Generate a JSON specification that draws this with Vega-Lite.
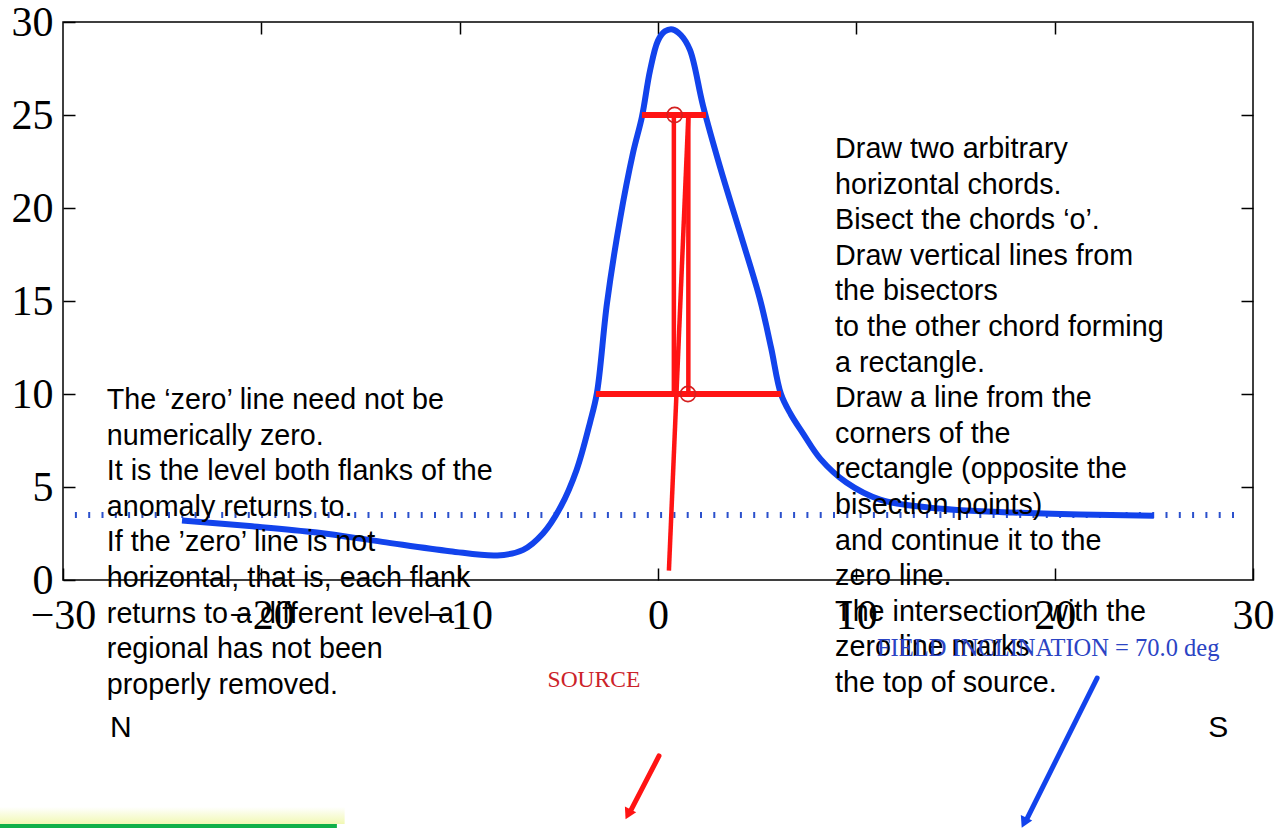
{
  "$schema": "https://vega.github.io/schema/vega-lite/v6.json",
  "autosize": {"type": "none"},
  "width": 1190,
  "height": 558,
  "padding": {"left": 63, "top": 22, "right": 32, "bottom": 248},
  "background": "white",
  "config": {
    "view": {"stroke": "black", "strokeWidth": 1.5},
    "text": {"font": "Liberation Sans", "fontSize": 28.7, "lineBreak": "\n", "lineHeight": 35.6, "align": "left", "baseline": "alphabetic", "color": "black"}
  },
  "datasets": {
    "curve": [
      {"x": -24.0, "y": 3.2}, {"x": -20.6, "y": 2.9}, {"x": -17.2, "y": 2.55}, {"x": -13.9, "y": 2.05},
      {"x": -10.5, "y": 1.55}, {"x": -8.1, "y": 1.32}, {"x": -6.8, "y": 1.62}, {"x": -5.8, "y": 2.5},
      {"x": -4.9, "y": 3.95}, {"x": -4.1, "y": 5.93}, {"x": -3.43, "y": 8.46}, {"x": -3.08, "y": 10.05},
      {"x": -2.57, "y": 14.9}, {"x": -1.92, "y": 19.36}, {"x": -1.26, "y": 22.96}, {"x": -0.81, "y": 24.9},
      {"x": -0.4, "y": 27.4}, {"x": 0.0, "y": 29.0}, {"x": 0.35, "y": 29.5}, {"x": 0.74, "y": 29.6},
      {"x": 1.15, "y": 29.3}, {"x": 1.61, "y": 28.5},
      {"x": 2.27, "y": 25.5}, {"x": 3.13, "y": 22.2}, {"x": 4.13, "y": 18.7}, {"x": 5.14, "y": 15.1},
      {"x": 5.7, "y": 12.5}, {"x": 6.2, "y": 10.0}, {"x": 6.7, "y": 8.9}, {"x": 7.3, "y": 7.9},
      {"x": 8.2, "y": 6.5}, {"x": 9.5, "y": 5.24},
      {"x": 11.2, "y": 4.32}, {"x": 13.7, "y": 3.89}, {"x": 17.9, "y": 3.63}, {"x": 21.3, "y": 3.52},
      {"x": 25.0, "y": 3.46}
    ],
    "chords": [
      {"x": -0.81, "x2": 2.42, "y": 25},
      {"x": -3.13, "x2": 6.2, "y": 10}
    ],
    "verticals": [
      {"x": 0.8, "y": 25, "y2": 10},
      {"x": 1.53, "y": 10, "y2": 25}
    ],
    "diagonal": [{"x": 1.53, "y": 25, "x2": 0.55, "y2": 0.5}],
    "bisectors": [{"x": 0.84, "y": 25}, {"x": 1.51, "y": 10}],
    "zeroline": [{"x": -29.4, "x2": 29.6, "y": 3.5}],
    "redarrow": [{"x": 0.05, "y": -9.46, "x2": -1.35, "y2": -12.35}],
    "redtip": [{"x": -1.51, "y": -12.6}],
    "bluearrow": [{"x": 22.14, "y": -5.27, "x2": 18.62, "y2": -12.8}],
    "bluetip": [{"x": 18.46, "y": -13.05}],
    "glow": [{"x": -33.2, "x2": -15.8, "y": -12.2, "y2": -13.12}],
    "greenbar": [{"x": -33.2, "x2": -16.19, "y": -13.12, "y2": -13.4}],
    "lefttext": [{"x": -27.79, "y": 9.19, "t": "The ‘zero’ line need not be\nnumerically zero.\nIt is the level both flanks of the\nanomaly returns to.\nIf the ’zero’ line is not\nhorizontal, that is, each flank\nreturns to a different level a\nregional has not been\nproperly removed."}],
    "righttext": [{"x": 8.93, "y": 22.69, "t": "Draw two arbitrary\nhorizontal chords.\nBisect the chords ‘o’.\nDraw vertical lines from\nthe bisectors\nto the other chord forming\na rectangle.\nDraw a line from the\ncorners of the\nrectangle (opposite the\nbisection points)\nand continue it to the\nzero line.\nThe intersection with the\nzero line marks\nthe top of source."}],
    "ns": [{"x": -27.63, "y": -8.44, "t": "N"}, {"x": 27.74, "y": -8.44, "t": "S"}],
    "source": [{"x": -3.23, "y": -5.75, "t": "SOURCE"}],
    "field": [{"x": 11.04, "y": -4.09, "t": "FIELD   INCLINATION = 70.0 deg"}]
  },
  "layer": [
    {
      "data": {"name": "glow"},
      "mark": {"type": "rect", "color": {"gradient": "linear", "x1": 0, "y1": 0, "x2": 0, "y2": 1, "stops": [{"offset": 0, "color": "#ffffff"}, {"offset": 1, "color": "#f1f8b4"}]}},
      "encoding": {
        "x": {"field": "x", "type": "quantitative", "scale": {"domain": [-30, 30], "nice": false, "zero": false}, "axis": null},
        "x2": {"field": "x2"},
        "y": {"field": "y", "type": "quantitative", "scale": {"domain": [0, 30], "nice": false, "zero": false}, "axis": null},
        "y2": {"field": "y2"}
      }
    },
    {
      "data": {"name": "greenbar"},
      "mark": {"type": "rect", "color": "#10b04a"},
      "encoding": {
        "x": {"field": "x", "type": "quantitative", "axis": null},
        "x2": {"field": "x2"},
        "y": {"field": "y", "type": "quantitative", "axis": null},
        "y2": {"field": "y2"}
      }
    },
    {
      "data": {"name": "zeroline"},
      "mark": {"type": "rule", "color": "#2b50cc", "strokeWidth": 6, "strokeDash": [2, 11.3]},
      "encoding": {
        "x": {"field": "x", "type": "quantitative", "axis": {"orient": "top", "title": null, "labels": false, "domain": false, "grid": false, "ticks": true, "tickSize": -12, "tickWidth": 1.5, "tickColor": "black", "values": [-20, -10, 0, 10, 20]}},
        "x2": {"field": "x2"},
        "y": {"field": "y", "type": "quantitative", "axis": {"orient": "right", "title": null, "labels": false, "domain": false, "grid": false, "ticks": true, "tickSize": -12, "tickWidth": 1.5, "tickColor": "black", "values": [5, 10, 15, 20, 25]}}
      }
    },
    {
      "data": {"name": "curve"},
      "mark": {"type": "line", "color": "#1243ec", "strokeWidth": 6, "interpolate": "catmull-rom"},
      "encoding": {
        "x": {"field": "x", "type": "quantitative", "axis": {"orient": "bottom", "title": null, "domain": false, "grid": false, "tickSize": -12, "tickWidth": 1.5, "tickColor": "black", "values": [-30, -20, -10, 0, 10, 20, 30], "labelFont": "Liberation Serif", "labelFontSize": 42, "labelColor": "black", "labelBaseline": "alphabetic", "labelPadding": 60, "labelFlush": false, "labelOverlap": false}},
        "y": {"field": "y", "type": "quantitative", "axis": {"orient": "left", "title": null, "domain": false, "grid": false, "tickSize": -12, "tickWidth": 1.5, "tickColor": "black", "values": [0, 5, 10, 15, 20, 25, 30], "labelFont": "Liberation Serif", "labelFontSize": 42, "labelColor": "black", "labelBaseline": "middle", "labelPadding": 22, "labelFlush": false, "labelOverlap": false}}
      }
    },
    {
      "data": {"name": "chords"},
      "mark": {"type": "rule", "color": "#ff1414", "strokeWidth": 6},
      "encoding": {
        "x": {"field": "x", "type": "quantitative", "axis": null},
        "x2": {"field": "x2"},
        "y": {"field": "y", "type": "quantitative", "axis": null}
      }
    },
    {
      "data": {"name": "verticals"},
      "mark": {"type": "rule", "color": "#ff1414", "strokeWidth": 4.5},
      "encoding": {
        "x": {"field": "x", "type": "quantitative", "axis": null},
        "y": {"field": "y", "type": "quantitative", "axis": null},
        "y2": {"field": "y2"}
      }
    },
    {
      "data": {"name": "diagonal"},
      "mark": {"type": "rule", "color": "#ff1414", "strokeWidth": 4.5},
      "encoding": {
        "x": {"field": "x", "type": "quantitative", "axis": null},
        "y": {"field": "y", "type": "quantitative", "axis": null},
        "x2": {"field": "x2"},
        "y2": {"field": "y2"}
      }
    },
    {
      "data": {"name": "bisectors"},
      "mark": {"type": "point", "shape": "circle", "filled": false, "color": "#d42020", "strokeWidth": 1.6, "size": 230, "opacity": 1},
      "encoding": {
        "x": {"field": "x", "type": "quantitative", "axis": null},
        "y": {"field": "y", "type": "quantitative", "axis": null}
      }
    },
    {
      "data": {"name": "redarrow"},
      "mark": {"type": "rule", "color": "#ff1414", "strokeWidth": 5, "strokeCap": "round"},
      "encoding": {
        "x": {"field": "x", "type": "quantitative", "axis": null},
        "y": {"field": "y", "type": "quantitative", "axis": null},
        "x2": {"field": "x2"},
        "y2": {"field": "y2"}
      }
    },
    {
      "data": {"name": "redtip"},
      "mark": {"type": "point", "shape": "triangle-down", "filled": true, "color": "#ff1414", "size": 160, "angle": 27, "opacity": 1},
      "encoding": {
        "x": {"field": "x", "type": "quantitative", "axis": null},
        "y": {"field": "y", "type": "quantitative", "axis": null}
      }
    },
    {
      "data": {"name": "bluearrow"},
      "mark": {"type": "rule", "color": "#1243ec", "strokeWidth": 5, "strokeCap": "round"},
      "encoding": {
        "x": {"field": "x", "type": "quantitative", "axis": null},
        "y": {"field": "y", "type": "quantitative", "axis": null},
        "x2": {"field": "x2"},
        "y2": {"field": "y2"}
      }
    },
    {
      "data": {"name": "bluetip"},
      "mark": {"type": "point", "shape": "triangle-down", "filled": true, "color": "#1243ec", "size": 160, "angle": 26, "opacity": 1},
      "encoding": {
        "x": {"field": "x", "type": "quantitative", "axis": null},
        "y": {"field": "y", "type": "quantitative", "axis": null}
      }
    },
    {
      "data": {"name": "lefttext"},
      "mark": {"type": "text"},
      "encoding": {
        "x": {"field": "x", "type": "quantitative", "axis": null},
        "y": {"field": "y", "type": "quantitative", "axis": null},
        "text": {"field": "t"}
      }
    },
    {
      "data": {"name": "righttext"},
      "mark": {"type": "text"},
      "encoding": {
        "x": {"field": "x", "type": "quantitative", "axis": null},
        "y": {"field": "y", "type": "quantitative", "axis": null},
        "text": {"field": "t"}
      }
    },
    {
      "data": {"name": "ns"},
      "mark": {"type": "text", "fontSize": 30},
      "encoding": {
        "x": {"field": "x", "type": "quantitative", "axis": null},
        "y": {"field": "y", "type": "quantitative", "axis": null},
        "text": {"field": "t"}
      }
    },
    {
      "data": {"name": "source"},
      "mark": {"type": "text", "font": "Liberation Serif", "fontSize": 23.5, "align": "center", "color": "#cc2229"},
      "encoding": {
        "x": {"field": "x", "type": "quantitative", "axis": null},
        "y": {"field": "y", "type": "quantitative", "axis": null},
        "text": {"field": "t"}
      }
    },
    {
      "data": {"name": "field"},
      "mark": {"type": "text", "font": "Liberation Serif", "fontSize": 24.5, "color": "#2b44c4"},
      "encoding": {
        "x": {"field": "x", "type": "quantitative", "axis": null},
        "y": {"field": "y", "type": "quantitative", "axis": null},
        "text": {"field": "t"}
      }
    }
  ],
  "resolve": {"axis": {"x": "independent", "y": "independent"}}
}
